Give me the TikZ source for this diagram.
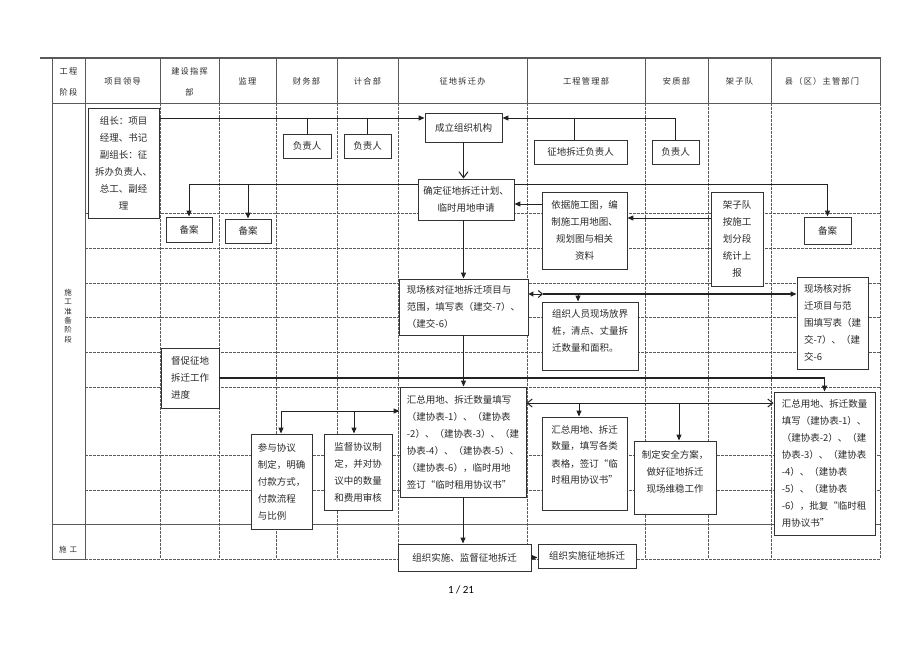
\documentclass[tikz,border=0pt]{standalone}
\usepackage{fontspec}
\setmainfont{Noto Sans CJK SC}
\newfontfamily\pnfont{Carlito}
\usetikzlibrary{arrows.meta}
\definecolor{gridc}{HTML}{5A5A5A}
\definecolor{boxc}{HTML}{333333}
\definecolor{linec}{HTML}{222222}
\definecolor{txtc}{HTML}{2A2A2A}
\newcommand\bodyfont{\fontsize{9.5}{17}\selectfont}
\newcommand\hdrfont{\fontsize{8.2}{21}\selectfont\addfontfeature{LetterSpace=15}}
\newcommand\sidefont{\fontsize{7.5}{9.3}\selectfont}
\begin{document}
\begin{tikzpicture}[x=1pt,y=-1pt,
  gridl/.style={gridc, line width=0.6pt, dash pattern=on 2.5pt off 1.5pt},
  solidl/.style={gridc, line width=0.8pt},
  box/.style={draw=boxc, line width=0.9pt, fill=white, inner sep=0pt, font=\bodyfont, text=txtc, align=center},
  hdr/.style={font=\hdrfont, text=txtc, align=center, inner sep=0pt},
  conn/.style={linec, line width=1pt},
  arr/.style={conn, -{Triangle[length=6pt,width=5pt]}},
  oarr/.style={conn, -{Straight Barb[length=6pt,width=9pt]}},
]
\fill[white] (0,0) rectangle (920,651);
\useasboundingbox (0,0) rectangle (920,651);

% ---------- table grid ----------
\draw[solidl, line width=1.5pt] (40,58) -- (881,58);
\draw[solidl] (52,103) -- (880,103);
\foreach \x in {52,85,160,219,276,337,398,527,645,708,771,880}
  \draw[solidl] (\x,58) -- (\x,103);
\draw[solidl] (52,103) -- (52,559);
\draw[solidl] (85,103) -- (85,559);
\foreach \x in {160,219,276,337,398,527,645,708,771,880}
  \draw[gridl] (\x,103) -- (\x,559);
\foreach \y in {213,248,283,317,352,387,455,490}
  \draw[gridl] (85,\y) -- (880,\y);
\draw[solidl] (52,524) -- (880,524);
\draw[solidl] (52,559) -- (85,559);
\draw[gridl] (85,559) -- (880,559);

% ---------- header ----------
\node[hdr] (h1) at (68.5,81.5) {工程\\阶段};
\node[hdr] (h2) at (122.5,81.5) {项目领导};
\node[hdr] (h3) at (189.5,81.5) {建设指挥\\部};
\node[hdr] (h4) at (247.5,81.5) {监理};
\node[hdr] (h5) at (306.5,81.5) {财务部};
\node[hdr] (h6) at (367.5,81.5) {计合部};
\node[hdr] (h7) at (462.5,81.5) {征地拆迁办};
\node[hdr] (h8) at (586,81.5) {工程管理部};
\node[hdr] (h9) at (676.5,81.5) {安质部};
\node[hdr] (h10) at (739.5,81.5) {架子队};
\node[hdr] (h11) at (822,81.5) {县（区）主管部门};
\node[font=\sidefont, text=txtc, align=center, inner sep=0pt] (s1) at (68,316) {施\\工\\准\\备\\阶\\段};
\node[font=\sidefont, text=txtc, inner sep=0pt] (s2) at (68,550) {施\hspace{3pt}工};

% ---------- boxes ----------
\node[box, minimum width=71pt, minimum height=110pt] (zz) at (123.5,163) {组长：项目\\经理、书记\\副组长：征\\拆办负责人、\\总工、副经\\理};
\node[box, minimum width=48pt, minimum height=24pt] (fz1) at (307,146) {负责人};
\node[box, minimum width=47pt, minimum height=24pt] (fz2) at (367.5,146) {负责人};
\node[box, minimum width=77pt, minimum height=29pt] (cl) at (463.5,127.5) {成立组织机构};
\node[box, minimum width=93pt, minimum height=24pt] (zdfz) at (580.5,152) {征地拆迁负责人};
\node[box, minimum width=47pt, minimum height=24pt] (fz3) at (675.5,152) {负责人};
\node[box, minimum width=96pt, minimum height=41pt] (qd) at (466,199.5) {确定征地拆迁计划、\\临时用地申请};
\node[box, minimum width=46pt, minimum height=25pt] (ba1) at (189,229.5) {备案};
\node[box, minimum width=46pt, minimum height=24pt] (ba2) at (248,231) {备案};
\node[box, minimum width=47pt, minimum height=27pt] (ba3) at (827.5,230.5) {备案};
\node[box, minimum width=85pt, minimum height=77pt] (yj) at (584.5,230.5) {依据施工图，编\\制施工用地图、\\规划图与相关\\资料};
\node[box, minimum width=52pt, minimum height=94pt] (jz) at (737,239) {架子队\\按施工\\划分段\\统计上\\报};
\node[box, align=left, minimum width=129pt, minimum height=56pt] (xc) at (463.5,307) {现场核对征地拆迁项目与\\范围，填写表（建交-7）、\\（建交-6）};
\node[box, align=left, minimum width=96pt, minimum height=68pt, text depth=12pt] (zzry) at (590,336) {组织人员现场放界\\桩，清点、丈量拆\\迁数量和面积。};
\node[box, align=left, minimum width=71pt, minimum height=92pt] (xcx) at (832.5,323) {现场核对拆\\迁项目与范\\围填写表（建\\交-7）、（建\\交-6};
\node[box, align=left, minimum width=58pt, minimum height=60pt] (dc) at (190,378) {督促征地\\拆迁工作\\进度};
\node[box, align=left, minimum width=126pt, minimum height=110pt] (hz) at (463,442) {汇总用地、拆迁数量填写\\（建协表-1）、（建协表\\-2）、（建协表-3）、（建\\协表-4）、（建协表-5）、\\（建协表-6），临时用地\\签订“临时租用协议书”};
\node[box, align=left, minimum width=85pt, minimum height=93pt, text depth=18pt] (hzg) at (584.5,463.5) {汇总用地、拆迁\\数量，填写各类\\表格，签订“临\\时租用协议书”};
\node[box, minimum width=82pt, minimum height=73pt, text depth=12pt] (aq) at (675,477.5) {制定安全方案，\\做好征地拆迁\\现场维稳工作};
\node[box, align=left, minimum width=101pt, minimum height=143pt] (hzx) at (824.5,463.5) {汇总用地、拆迁数量\\填写（建协表-1）、\\（建协表-2）、（建\\协表-3）、（建协表\\-4）、（建协表\\-5）、（建协表\\-6），批复“临时租\\用协议书”};
\node[box, align=left, minimum width=61pt, minimum height=95pt] (cy) at (281.5,481.5) {参与协议\\制定，明确\\付款方式，\\付款流程\\与比例};
\node[box, align=left, minimum width=68pt, minimum height=76pt] (jd) at (358,472) {监督协议制\\定，并对协\\议中的数量\\和费用审核};
\node[box, minimum width=133pt, minimum height=27pt] (ss1) at (464.5,557.5) {组织实施、监督征地拆迁};
\node[box, minimum width=98pt, minimum height=24pt] (ss2) at (587,556) {组织实施征地拆迁};

\node[font=\pnfont\fontsize{11}{13}\selectfont, text=black, inner sep=0pt] (pn) at (461,590) {1 / 21};

% ---------- connectors ----------
\coordinate (h118) at (0,118);
\coordinate (t574) at (574,0);
\draw[arr] (zz.east |- h118) -- (cl.west |- h118);
\draw[conn] (fz1.north) -- (fz1.north |- h118);
\draw[conn] (fz2.north) -- (fz2.north |- h118);
\draw[arr] (fz3.north) |- (cl.east |- h118);
\draw[conn] (zdfz.north -| t574) -- (t574 |- h118);
\draw[oarr] (cl.south) -- (cl.south |- qd.north);

\coordinate (h184) at (0,184);
\draw[arr] (qd.west |- h184) -| (ba1.north);
\draw[arr] (ba2.north |- h184) -- (ba2.north);
\draw[arr] (qd.east |- h184) -| (ba3.north);

\coordinate (h204) at (0,204);
\draw[arr] (yj.west |- h204) -- (qd.east |- h204);
\coordinate (h218) at (0,218);
\draw[arr] (jz.west |- h218) -- (yj.east |- h218);

\draw[arr] (xc.north |- qd.south) -- (xc.north);

\coordinate (h294) at (0,294);
\coordinate (m543) at (543,294);
\coordinate (t578) at (578,294);
\draw[conn, {Triangle[length=5pt,width=5pt]}-{Straight Barb[length=4pt,width=7pt]}] (xc.east |- h294) -- (m543);
\draw[arr, line width=1.4pt] (m543) -- (xcx.west |- h294);
\draw[arr] (t578) -- (t578 |- zzry.north);

\draw[arr] (xc.south) -- (xc.south |- hz.north);
\draw[arr, line width=1.4pt] (dc.east) -| (hzx.north);

\coordinate (t281) at (281,411);
\coordinate (t354) at (354,411);
\draw[arr] (t281) -- (hz.west |- t281);
\draw[arr] (t281) -- (t281 |- cy.north);
\draw[arr] (t354) -- (t354 |- jd.north);

\coordinate (h403) at (0,403);
\coordinate (t579) at (579,403);
\coordinate (t679) at (679,403);
\draw[conn, {Straight Barb[length=5pt,width=8pt]}-{Straight Barb[length=5pt,width=8pt]}] (hz.east |- h403) -- (hzx.west |- h403);
\draw[arr] (t579) -- (t579 |- hzg.north);
\draw[arr] (t679) -- (t679 |- aq.north);

\draw[arr] (hz.south) -- (hz.south |- ss1.north);
\draw[arr] (ss1.east) -- (ss1.east -| ss2.west);
\end{tikzpicture}
\end{document}
